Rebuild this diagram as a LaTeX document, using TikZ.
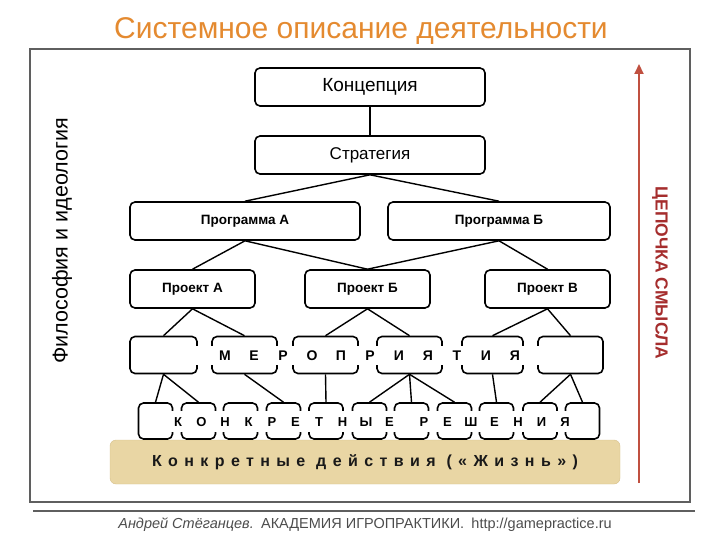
\documentclass[tikz,border=0pt]{standalone}
\usepackage{fontspec}
\setmainfont{Liberation Sans}
\usetikzlibrary{arrows.meta}
\definecolor{titleorange}{RGB}{228,138,48}
\definecolor{chainred}{RGB}{192,80,64}
\definecolor{chaintext}{RGB}{165,45,45}
\definecolor{lifesand}{RGB}{233,214,164}
\definecolor{lifeedge}{RGB}{214,192,140}
\definecolor{framegray}{RGB}{95,95,95}
\begin{document}
\begin{tikzpicture}[x=1pt, y=-1pt,
    box/.style={draw, rounded corners=5pt, line width=1.6pt, fill=white, inner sep=0pt, minimum height=38pt},
    bigbox/.style={box, minimum width=230pt},
    projbox/.style={box, minimum width=125pt, font=\fontsize{13.5}{15}\selectfont\bfseries},
    evbox/.style={box, minimum height=37pt},
    decbox/.style={box, minimum width=34pt, minimum height=36pt},
    strip/.style={fill=white, inner sep=0pt},
    letter/.style={inner sep=0pt, font=\bfseries},
    link/.style={line width=1.4pt},
    band/.style={draw=lifeedge, fill=lifesand, rounded corners=6pt, minimum width=510pt, minimum height=44pt, inner sep=0pt},
    >=Stealth
  ]
  \useasboundingbox (0,0) rectangle (720,540);

  \node[text=titleorange, font=\fontsize{30}{34}\selectfont] (title) at (361,31) {Системное описание деятельности};
  \draw[framegray, line width=2pt] (30,49) rectangle (690,502);

  \node[band] (life) at (365,462) {\fontsize{16}{18}\selectfont\bfseries\addfontfeatures{LetterSpace=40}\textcolor{black!90}{Конкретные действия («Жизнь»)}};

  \node[bigbox, font=\fontsize{19}{21}\selectfont] (konc) at (370,87) {Концепция};
  \node[bigbox, font=\fontsize{17}{19}\selectfont] (strat) at (370,155) {Стратегия};
  \node[bigbox, font=\fontsize{13.5}{15}\selectfont\bfseries] (progA) at (245,221) {Программа А};
  \node[box, minimum width=222pt, font=\fontsize{13.5}{15}\selectfont\bfseries] (progB) at (499,221) {Программа Б};
  \node[projbox] (projA) at (192.5,289) {Проект А};
  \node[projbox] (projB) at (367.5,289) {Проект Б};
  \node[projbox] (projV) at (547.5,289) {Проект В};

  \node[evbox, minimum width=67pt] (ev1) at (163.5,355) {};
  \node[evbox, minimum width=65pt] (ev2) at (244.5,355) {};
  \node[evbox, minimum width=65pt] (ev3) at (325.5,355) {};
  \node[evbox, minimum width=65pt] (ev4) at (409.5,355) {};
  \node[evbox, minimum width=61pt] (ev5) at (492.5,355) {};
  \node[evbox, minimum width=65pt] (ev6) at (570.5,355) {};

  \node[decbox] (dec1) at (155.5,421) {};
  \node[decbox] (dec2) at (198.5,421) {};
  \node[decbox] (dec3) at (240.5,421) {};
  \node[decbox] (dec4) at (283.5,421) {};
  \node[decbox] (dec5) at (326,421) {};
  \node[decbox] (dec6) at (369.5,421) {};
  \node[decbox] (dec7) at (411.5,421) {};
  \node[decbox] (dec8) at (454.5,421) {};
  \node[decbox] (dec9) at (496.5,421) {};
  \node[decbox] (dec10) at (540,421) {};
  \node[decbox] (dec11) at (582.5,421) {};

  % white strips under the spaced letters
  \node[strip, minimum width=346pt, minimum height=19pt] (evstrip) at (368,355.5) {};
  \node[strip, minimum width=410pt, minimum height=21pt] (decstrip) at (372,421) {};

  \foreach \ch [count=\i from 0] in {М,Е,Р,О,П,Р,И,Я,Т,И,Я}
    \node[letter, font=\fontsize{14}{16}\selectfont\bfseries] (evl\i) at ({225+29*\i},356) {\ch};
  \foreach \ch [count=\i from 0] in {К,О,Н,К,Р,Е,Т,Н,Ы,Е}
    \node[letter, font=\fontsize{13}{15}\selectfont\bfseries] (decl\i) at ({178+23.5*\i},422) {\ch};
  \foreach \ch [count=\i from 0] in {Р,Е,Ш,Е,Н,И,Я}
    \node[letter, font=\fontsize{13}{15}\selectfont\bfseries] (decw\i) at ({424+23.5*\i},422) {\ch};

  \draw[link] (konc) -- (strat);
  \draw[link] (strat.south) -- (progA.north);
  \draw[link] (strat.south) -- (progB.north);
  \draw[link] (progA.south) -- (projA.north);
  \draw[link] (progA.south) -- (projB.north);
  \draw[link] (progB.south) -- (projB.north);
  \draw[link] (progB.south) -- (projV.north);
  \draw[link] (projA.south) -- (ev1.north);
  \draw[link] (projA.south) -- (ev2.north);
  \draw[link] (projB.south) -- (ev3.north);
  \draw[link] (projB.south) -- (ev4.north);
  \draw[link] (projV.south) -- (ev5.north);
  \draw[link] (projV.south) -- (ev6.north);
  \draw[link] (ev1.south) -- (dec1.north);
  \draw[link] (ev1.south) -- (dec2.north);
  \draw[link] (ev2.south) -- (dec4.north);
  \draw[link] (ev3.south) -- (dec5.north);
  \draw[link] (ev4.south) -- (dec6.north);
  \draw[link] (ev4.south) -- (dec7.north);
  \draw[link] (ev4.south) -- (dec8.north);
  \draw[link] (ev5.south) -- (dec9.north);
  \draw[link] (ev6.south) -- (dec10.north);
  \draw[link] (ev6.south) -- (dec11.north);

  % chain of meaning
  \coordinate (chainbot) at (639,483);
  \coordinate (chaintop) at (639,64);
  \draw[chainred, line width=2pt, -{Triangle[length=10pt, width=9pt]}] (chainbot) -- (chaintop);
  \node[rotate=-90, text=chaintext, font=\fontsize{17.5}{19}\selectfont\bfseries] (chainlbl) at (660,273) {ЦЕПОЧКА СМЫСЛА};

  \node[rotate=90, font=\fontsize{21.5}{24}\selectfont] (philo) at (62,241) {Философия и идеология};

  \draw[framegray, line width=1.5pt] (33,511) -- (695,511);
  \node[text=black!70, font=\fontsize{14.5}{16}\selectfont] (footer) at (365,525)
    {\textit{Андрей Стёганцев.}\enspace АКАДЕМИЯ ИГРОПРАКТИКИ.\enspace http://gamepractice.ru};
\end{tikzpicture}
\end{document}
